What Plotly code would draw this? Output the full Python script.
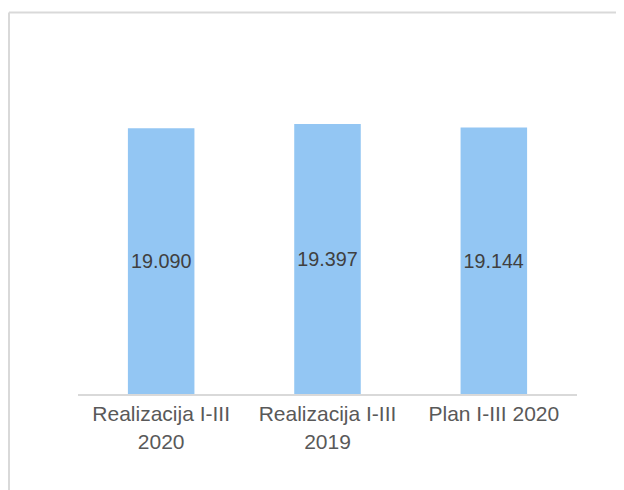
import plotly.graph_objects as go

categories = ["Realizacija I-III<br>2020", "Realizacija I-III<br>2019", "Plan I-III 2020"]
values = [19090, 19397, 19144]

# page body adds an 8px offset; compensate so screen positions match
OFF = 8
W, H = 624 - OFF, 490 - OFF
L, T = 78 - OFF, 46 - OFF
pw, ph = 499, 348
R, B = W - L - pw, H - T - ph

def px(x):
    return (x - OFF - L) / pw

def py(y):
    return (T + ph - (y - OFF)) / ph

fig = go.Figure(go.Bar(
    x=categories, y=values,
    marker=dict(color="#93C6F3", line=dict(width=0)),
    texttemplate="%{y:,.0f}",
    textposition="inside",
    insidetextanchor="middle",
    textangle=0,
    textfont=dict(family="Liberation Sans, Arial", size=21, color="#404040"),
    hoverinfo="skip",
))

fig.update_layout(
    width=W, height=H,
    margin=dict(l=L, r=R, t=T, b=B),
    paper_bgcolor="white", plot_bgcolor="white",
    separators=",.",
    bargap=0.6,
    showlegend=False,
    xaxis=dict(showline=True, linecolor="#D9D9D9", linewidth=2,
               ticks="", showgrid=False,
               tickfont=dict(family="Liberation Sans, Arial", size=21, color="#595959")),
    yaxis=dict(range=[0, 25000], visible=False, showgrid=False),
    shapes=[
        dict(type="line", xref="paper", yref="paper", x0=px(9), x1=px(640), y0=py(12.5), y1=py(12.5),
             line=dict(color="#D9D9D9", width=2)),
        dict(type="line", xref="paper", yref="paper", x0=px(9), x1=px(9), y0=py(12.5), y1=py(500),
             line=dict(color="#D9D9D9", width=2)),
    ],
)

fig.write_html("out.html")
